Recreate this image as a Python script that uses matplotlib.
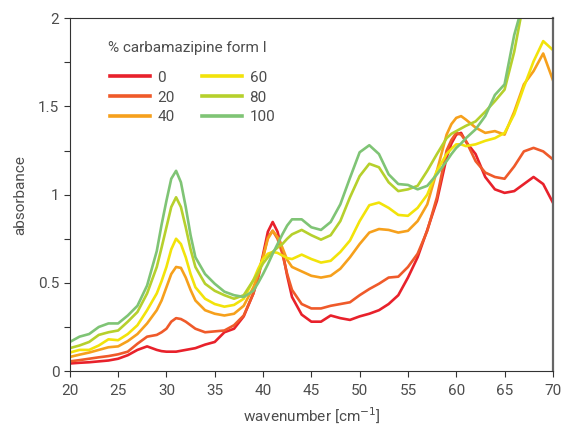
import numpy as np
from matplotlib import pyplot as plt
from matplotlib.ticker import MultipleLocator, FuncFormatter

# wavenumber grid (cm-1) shared by all spectra, finer around the peaks
wn = [20, 21, 22, 23, 24, 25, 26, 27, 28,
      29, 29.5, 30, 30.5, 31, 31.5, 32, 32.5, 33,
      34, 35, 36, 37, 38, 39,
      39.5, 40, 40.5, 41, 41.5, 42, 42.5, 43,
      44, 45, 46, 47, 48, 49, 50, 51, 52, 53, 54, 55, 56, 57, 58,
      59, 59.5, 60, 60.5, 61,
      62, 63, 64, 65, 66, 67, 68, 69, 70]

abs_0 = [0.043, 0.047, 0.05, 0.055, 0.06, 0.07, 0.09, 0.12, 0.14,
         0.12, 0.113, 0.11, 0.11, 0.11, 0.115, 0.12, 0.125, 0.13,
         0.15, 0.165, 0.22, 0.24, 0.31, 0.44,
         0.54, 0.66, 0.79, 0.845, 0.79, 0.68, 0.54, 0.42,
         0.32, 0.28, 0.28, 0.315, 0.30, 0.29, 0.31, 0.325, 0.345, 0.38, 0.43, 0.53, 0.645, 0.80, 0.965,
         1.21, 1.29, 1.34, 1.35, 1.30,
         1.23, 1.10, 1.03, 1.01, 1.02, 1.06, 1.10, 1.06, 0.955]
abs_20 = [0.055, 0.062, 0.07, 0.078, 0.085, 0.095, 0.11, 0.155, 0.195,
          0.205, 0.22, 0.24, 0.28, 0.30, 0.295, 0.28, 0.26, 0.24,
          0.22, 0.225, 0.23, 0.26, 0.315, 0.44,
          0.53, 0.645, 0.76, 0.795, 0.75, 0.665, 0.55, 0.46,
          0.38, 0.355, 0.355, 0.37, 0.38, 0.39, 0.43, 0.465, 0.495, 0.53, 0.535, 0.59, 0.665, 0.795, 0.985,
          1.25, 1.31, 1.35, 1.34, 1.305,
          1.19, 1.125, 1.10, 1.09, 1.16, 1.245, 1.265, 1.245, 1.20]
abs_40 = [0.08, 0.093, 0.105, 0.12, 0.135, 0.14, 0.17, 0.21, 0.27,
          0.345, 0.40, 0.475, 0.55, 0.59, 0.585, 0.53, 0.46, 0.40,
          0.345, 0.325, 0.315, 0.325, 0.37, 0.475,
          0.55, 0.645, 0.75, 0.795, 0.76, 0.70, 0.63, 0.59,
          0.565, 0.54, 0.53, 0.54, 0.58, 0.645, 0.72, 0.785, 0.805, 0.80, 0.785, 0.795, 0.85, 0.945, 1.135,
          1.34, 1.40, 1.435, 1.445, 1.425,
          1.38, 1.35, 1.36, 1.34, 1.47, 1.625, 1.70, 1.80, 1.65]
abs_60 = [0.105, 0.12, 0.12, 0.145, 0.18, 0.175, 0.21, 0.26, 0.345,
          0.44, 0.51, 0.59, 0.69, 0.75, 0.72, 0.645, 0.55, 0.475,
          0.41, 0.38, 0.365, 0.375, 0.41, 0.515,
          0.58, 0.635, 0.665, 0.675, 0.67, 0.655, 0.64, 0.635,
          0.66, 0.635, 0.615, 0.625, 0.675, 0.74, 0.85, 0.94, 0.955, 0.925, 0.885, 0.88, 0.925, 1.00, 1.135,
          1.23, 1.26, 1.285, 1.285, 1.275,
          1.285, 1.305, 1.32, 1.35, 1.455, 1.61, 1.755, 1.87, 1.82]
abs_80 = [0.13, 0.145, 0.165, 0.205, 0.22, 0.23, 0.28, 0.335, 0.44,
          0.59, 0.70, 0.815, 0.93, 0.985, 0.93, 0.815, 0.69, 0.59,
          0.495, 0.455, 0.43, 0.41, 0.43, 0.515,
          0.56, 0.61, 0.645, 0.675, 0.70, 0.72, 0.75, 0.775,
          0.80, 0.77, 0.745, 0.77, 0.85, 0.985, 1.105, 1.175, 1.155, 1.07, 1.02, 1.03, 1.05, 1.135, 1.23,
          1.32, 1.345, 1.36, 1.375, 1.39,
          1.415, 1.47, 1.53, 1.595, 1.81, 2.1, 2.2, 2.3, 2.4]
abs_100 = [0.165, 0.195, 0.21, 0.25, 0.27, 0.27, 0.315, 0.37, 0.485,
           0.68, 0.83, 0.965, 1.09, 1.135, 1.07, 0.93, 0.77, 0.645,
           0.55, 0.495, 0.45, 0.43, 0.42, 0.455,
           0.50, 0.55, 0.605, 0.665, 0.72, 0.775, 0.825, 0.86,
           0.86, 0.815, 0.80, 0.845, 0.945, 1.095, 1.24, 1.28, 1.23, 1.115, 1.06, 1.055, 1.03, 1.05, 1.115,
           1.19, 1.23, 1.265, 1.29, 1.32,
           1.37, 1.445, 1.565, 1.625, 1.905, 2.1, 2.2, 2.3, 2.4]

labels = ['0', '20', '40', '60', '80', '100']
colors = ['#e8212b', '#ef5a2a', '#f6a01c', '#f2e30a', '#b6d02c', '#7fc475']
series = [abs_0, abs_20, abs_40, abs_60, abs_80, abs_100]

plt.rcParams['font.family'] = ['Roboto', 'DejaVu Sans']
fig = plt.figure(figsize=(5.63, 4.33), dpi=100)
ax = fig.add_axes([0.124, 0.143, 0.858, 0.815])

for y, c, lab in zip(series, colors, labels):
    ax.plot(wn, y, color=c, lw=1.9, label=lab, solid_joinstyle='round')

ax.set_xlim(20, 70)
ax.set_ylim(0, 2)
ax.xaxis.set_major_locator(MultipleLocator(5))
ax.yaxis.set_major_locator(MultipleLocator(0.5))
ax.yaxis.set_minor_locator(MultipleLocator(0.25))
ax.yaxis.set_major_formatter(FuncFormatter(lambda v, p: ('%g' % v)))

grey = '#4d4d4d'
for s in ax.spines.values():
    s.set_color('#333333')
    s.set_linewidth(0.8)
ax.spines['right'].set_color('#666666')
ax.spines['right'].set_linewidth(1.6)
ax.tick_params(which='both', direction='out', length=4, width=0.8, color='#333333',
               labelcolor=grey, labelsize=11)
ax.tick_params(axis='x', pad=5)

ax.set_xlabel('wavenumber [cm$^{\\mathrm{-1}}$]', color=grey, fontsize=11, labelpad=5)
ax.set_ylabel('absorbance', color=grey, fontsize=11, labelpad=8)

# legend title drawn separately so the gap to the entries matches
ax.text(0.079, 0.915, '% carbamazipine form I', transform=ax.transAxes,
        ha='left', va='center', fontsize=11, color=grey)
leg = ax.legend(ncol=2, frameon=False, loc='upper left', bbox_to_anchor=(0.083, 0.851),
                fontsize=11, handlelength=2.6, handletextpad=0.5, borderpad=0,
                columnspacing=1.8, labelspacing=0.38, borderaxespad=0)
for t in leg.get_texts():
    t.set_color(grey)
for h in leg.legend_handles:
    h.set_linewidth(2.6)

fig.savefig('out.png', dpi=100)
